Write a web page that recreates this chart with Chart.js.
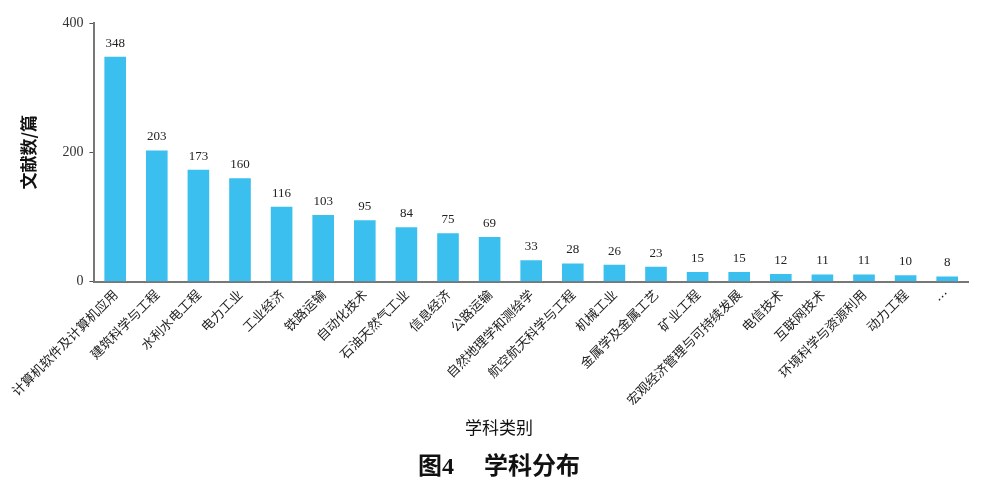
<!DOCTYPE html>
<html>
<head>
<meta charset="utf-8">
<script src="https://cdn.jsdelivr.net/npm/chart.js@4"></script>
<style>
  html, body { margin: 0; padding: 0; background: #fff; }
  #wrap { width: 981px; height: 488px; }
</style>
</head>
<body>
<div id="wrap"><canvas id="chart"></canvas></div>
<script>
const categories = ['计算机软件及计算机应用', '建筑科学与工程', '水利水电工程', '电力工业', '工业经济',
  '铁路运输', '自动化技术', '石油天然气工业', '信息经济', '公路运输', '自然地理学和测绘学',
  '航空航天科学与工程', '机械工业', '金属学及金属工艺', '矿业工程', '宏观经济管理与可持续发展',
  '电信技术', '互联网技术', '环境科学与资源利用', '动力工程', '…'];
const counts = [348, 203, 173, 160, 116, 103, 95, 84, 75, 69, 33, 28, 26, 23, 15, 15, 12, 11, 11, 10, 8];
const yTicks = [0, 200, 400];

const serif = '"Liberation Serif", "Times New Roman", "Noto Sans CJK SC", serif';
const sans = '"Noto Sans CJK SC", "Noto Sans", sans-serif';

// value labels above each bar
const valueLabels = {
  id: 'valueLabels',
  afterDatasetsDraw(chart) {
    const ctx = chart.ctx;
    const meta = chart.getDatasetMeta(0);
    ctx.save();
    ctx.font = '13px ' + serif;
    ctx.fillStyle = '#222';
    ctx.textAlign = 'center';
    ctx.textBaseline = 'bottom';
    meta.data.forEach((bar, i) => {
      ctx.fillText(counts[i], bar.x, bar.y - 7);
    });
    ctx.restore();
  }
};

// axis title and figure caption, centred like the printed figure
const captions = {
  id: 'captions',
  afterDraw(chart) {
    const ctx = chart.ctx;
    ctx.save();
    ctx.textAlign = 'center';
    ctx.textBaseline = 'middle';
    ctx.fillStyle = '#111';
    ctx.font = '17px ' + sans;
    ctx.fillText('学科类别', 499, 428);
    ctx.font = 'bold 24px ' + serif;
    ctx.fillText('图4　 学科分布', 499, 468);
    ctx.restore();
  }
};

new Chart(document.getElementById('chart'), {
  type: 'bar',
  data: {
    labels: categories,
    datasets: [{
      data: counts,
      backgroundColor: '#3bbfef',
      barPercentage: 0.52,
      categoryPercentage: 1.0
    }]
  },
  options: {
    responsive: true,
    maintainAspectRatio: false,
    animation: false,
    layout: { padding: { top: 23, right: 13, left: 18, bottom: 83 } },
    plugins: {
      legend: { display: false },
      tooltip: { enabled: false },
      title: { display: false }
    },
    scales: {
      x: {
        grid: { display: false },
        border: { color: '#777', width: 2 },
        ticks: {
          autoSkip: false,
          maxRotation: 45,
          minRotation: 45,
          color: '#222',
          padding: -3,
          font: { family: sans, size: 13 }
        }
      },
      y: {
        min: 0,
        max: 400,
        afterBuildTicks(scale) {
          scale.ticks = yTicks.map(v => ({ value: v }));
        },
        grid: { drawOnChartArea: false, drawTicks: true, tickLength: 5, color: '#555' },
        border: { color: '#777', width: 2 },
        ticks: {
          color: '#333',
          padding: 6,
          font: { family: serif, size: 14 }
        },
        title: {
          display: true,
          text: '文献数/篇',
          color: '#111',
          font: { family: sans, size: 17, weight: 'bold' },
          padding: { top: 0, bottom: 18 }
        }
      }
    }
  },
  plugins: [valueLabels, captions]
});
</script>
</body>
</html>
